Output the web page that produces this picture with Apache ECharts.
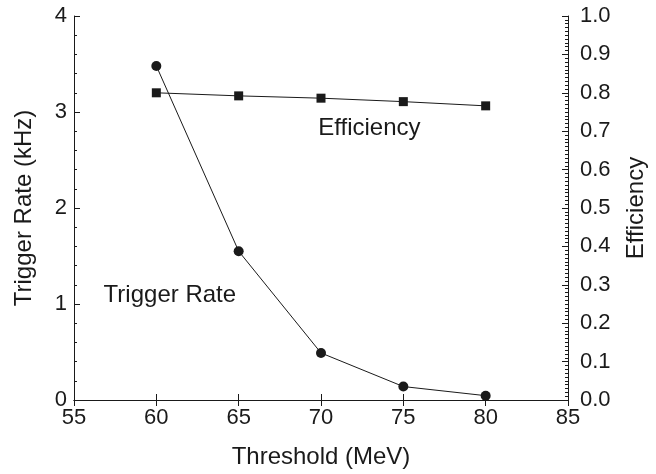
<!DOCTYPE html>
<html>
<head>
<meta charset="utf-8">
<script src="https://cdn.jsdelivr.net/npm/echarts@6/dist/echarts.min.js"></script>
<style>
html,body{margin:0;padding:0;background:#fff;}
#c{width:656px;height:474px;}
</style>
</head>
<body>
<div id="c"></div>
<script>
var thresholds = [60, 65, 70, 75, 80];
var triggerRate = [3.48, 1.55, 0.49, 0.14, 0.045];
var efficiency = [0.800, 0.792, 0.786, 0.777, 0.766];
var xTitle = 'Threshold (MeV)';
var yLeftTitle = 'Trigger Rate (kHz)';
var yRightTitle = 'Efficiency';

var font = 'Liberation Sans, Arial, sans-serif';
var ink = '#1a1a1a';
var chart = echarts.init(document.getElementById('c'), null, {renderer: 'canvas'});
var axisBase = {
  axisLine: {show: true, lineStyle: {color: ink, width: 1}},
  splitLine: {show: false}
};
chart.setOption({
  animation: false,
  backgroundColor: '#fff',
  grid: {left: 74, right: 88, top: 16, bottom: 74},
  xAxis: [
    Object.assign({}, axisBase, {
      type: 'value', min: 55, max: 85, interval: 5, position: 'bottom',
      name: xTitle, nameLocation: 'middle', nameGap: 45,
      nameTextStyle: {fontFamily: font, fontSize: 24, color: ink},
      axisTick: {show: true, inside: true, length: 6, lineStyle: {color: ink}},
      axisLabel: {fontFamily: font, fontSize: 22, color: ink, margin: 7}
    }),
    Object.assign({}, axisBase, {
      type: 'value', min: 55, max: 85, interval: 5, position: 'top',
      axisTick: {show: true, inside: true, length: 6, lineStyle: {color: ink}},
      axisLabel: {show: false}
    })
  ],
  yAxis: [
    Object.assign({}, axisBase, {
      type: 'value', min: 0, max: 4, interval: 1, position: 'left',
      name: yLeftTitle, nameLocation: 'middle', nameGap: 38, nameRotate: 90,
      nameTextStyle: {fontFamily: font, fontSize: 24, color: ink},
      axisTick: {show: true, inside: true, length: 6, lineStyle: {color: ink}},
      minorTick: {show: true, splitNumber: 5, length: 3, lineStyle: {color: ink}},
      axisLabel: {fontFamily: font, fontSize: 22, color: ink, margin: 7}
    }),
    Object.assign({}, axisBase, {
      type: 'value', min: 0, max: 1, interval: 0.1, position: 'right',
      name: yRightTitle, nameLocation: 'middle', nameGap: 56, nameRotate: 90,
      nameTextStyle: {fontFamily: font, fontSize: 24, color: ink},
      axisTick: {show: true, inside: true, length: 6, lineStyle: {color: ink}},
      minorTick: {show: true, splitNumber: 10, length: 3, lineStyle: {color: ink}},
      axisLabel: {fontFamily: font, fontSize: 22, color: ink, margin: 12,
        formatter: function (v) { return v.toFixed(1); }}
    })
  ],
  series: [
    {
      type: 'line', name: 'Trigger Rate', xAxisIndex: 0, yAxisIndex: 0,
      data: thresholds.map(function (t, i) { return [t, triggerRate[i]]; }),
      symbol: 'circle', symbolSize: 10,
      itemStyle: {color: ink},
      lineStyle: {color: ink, width: 1},
      markPoint: {
        symbol: 'rect', symbolSize: 0,
        label: {show: true, formatter: 'Trigger Rate', fontFamily: font, fontSize: 24, color: ink},
        data: [{coord: [60.82, 1.094]}]
      }
    },
    {
      type: 'line', name: 'Efficiency', xAxisIndex: 0, yAxisIndex: 1,
      data: thresholds.map(function (t, i) { return [t, efficiency[i]]; }),
      symbol: 'rect', symbolSize: 9,
      itemStyle: {color: ink},
      lineStyle: {color: ink, width: 1},
      markPoint: {
        symbol: 'rect', symbolSize: 0,
        label: {show: true, formatter: 'Efficiency', fontFamily: font, fontSize: 24, color: ink},
        data: [{coord: [72.94, 0.708]}]
      }
    }
  ]
});
</script>
</body>
</html>
